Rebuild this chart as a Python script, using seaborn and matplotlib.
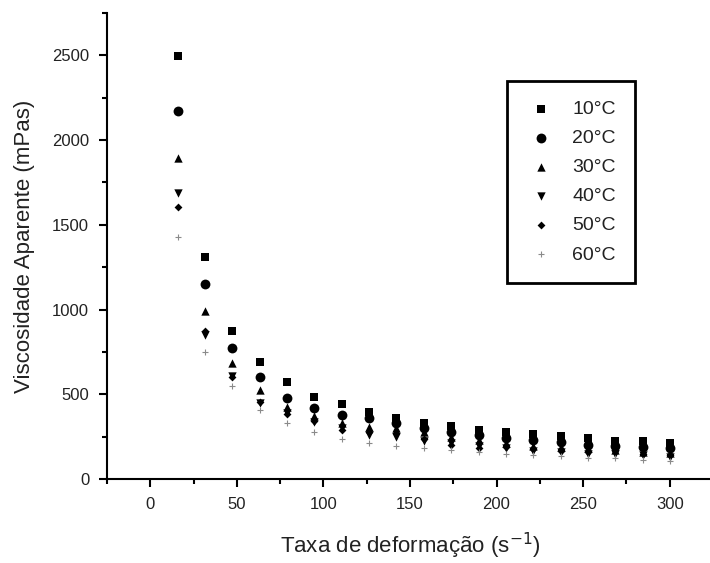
import numpy as np
import pandas as pd
import matplotlib
matplotlib.use("Agg")
import matplotlib.pyplot as plt
from matplotlib.ticker import MultipleLocator
import seaborn as sns

# shear rate (s^-1)
taxa = [15.8, 31.6, 47.4, 63.2, 79.0, 94.8, 110.6, 126.4, 142.2, 158.0,
        173.8, 189.6, 205.4, 221.2, 237.0, 252.8, 268.6, 284.4, 300.2]

# apparent viscosity (mPas) per temperature
v10 = [2495, 1312, 873, 690, 573, 483, 443, 396, 361, 331,
       313, 290, 275, 268, 254, 242, 225, 222, 210]
v20 = [2169, 1150, 774, 603, 479, 420, 378, 360, 331, 301,
       278, 260, 242, 230, 219, 201, 192, 189, 183]
v30 = [1897, 993, 686, 526, 426, 372, 331, 308, 301, 278,
       248, 230, 213, 195, 189, 180, 170, 160, 154]
v40 = [1690, 850, 610, 449, 390, 337, 300, 262, 248, 222,
       210, 195, 183, 165, 160, 148, 150, 142, 132]
v50 = [1608, 875, 603, 455, 385, 340, 290, 278, 272, 236,
       201, 183, 189, 175, 165, 160, 170, 150, 140]
v60 = [1430, 750, 550, 408, 331, 278, 236, 213, 195, 183,
       171, 160, 148, 142, 136, 124, 124, 110, 105]

temps = ["10°C", "20°C", "30°C", "40°C", "50°C", "60°C"]
series = [v10, v20, v30, v40, v50, v60]

sns.set_style("ticks")
plt.rcParams["font.family"] = ["Liberation Sans", "DejaVu Sans"]

fig = plt.figure(figsize=(7.10, 5.63), dpi=100)
ax = fig.add_axes([0.1507, 0.1492, 0.8535, 0.8277])

styles = {
    "10°C": dict(marker="s", s=36, color="black", linewidth=0),
    "20°C": dict(marker="o", s=50, color="black", linewidth=0),
    "30°C": dict(marker="^", s=36, color="black", linewidth=0),
    "40°C": dict(marker="v", s=36, color="black", linewidth=0),
    "50°C": dict(marker="D", s=16, color="black", linewidth=0),
    "60°C": dict(marker="+", s=14, color="#8a8a8a", linewidth=0.8),
}

for t, vals in zip(temps, series):
    df = pd.DataFrame({"taxa": taxa, "visc": vals})
    sns.scatterplot(data=df, x="taxa", y="visc", ax=ax, label=t, **styles[t])

ax.set_xlim(-25, 325)
ax.set_ylim(0, 2750)
ax.xaxis.set_minor_locator(MultipleLocator(25))
ax.yaxis.set_minor_locator(MultipleLocator(250))
ax.set_xticks([0, 50, 100, 150, 200, 250, 300])
ax.set_yticks([0, 500, 1000, 1500, 2000, 2500])

for side in ["top", "right"]:
    ax.spines[side].set_visible(False)
for side in ["left", "bottom"]:
    ax.spines[side].set_linewidth(1.5)
    ax.spines[side].set_color("black")

ax.tick_params(which="major", direction="out", length=5.8, width=1.5,
               labelsize=12, colors="black", labelcolor="#222222", pad=7)
ax.tick_params(which="minor", direction="out", length=3.6, width=1.5, colors="black")

ax.set_xlabel("Taxa de deformação (s$^{-1}$)", fontsize=16, color="#222222", labelpad=14)
ax.set_ylabel("Viscosidade Aparente (mPas)", fontsize=16, color="#222222", labelpad=12)

leg = ax.legend(loc="upper left", bbox_to_anchor=(0.660, 0.854), fontsize=14,
                frameon=True, fancybox=False, edgecolor="black", framealpha=1,
                borderpad=1.0, labelspacing=0.59, handletextpad=0.82,
                borderaxespad=0, handlelength=1.54)
leg.get_frame().set_linewidth(2)
for txt in leg.get_texts():
    txt.set_color("#222222")

fig.savefig("out.png", dpi=100)
